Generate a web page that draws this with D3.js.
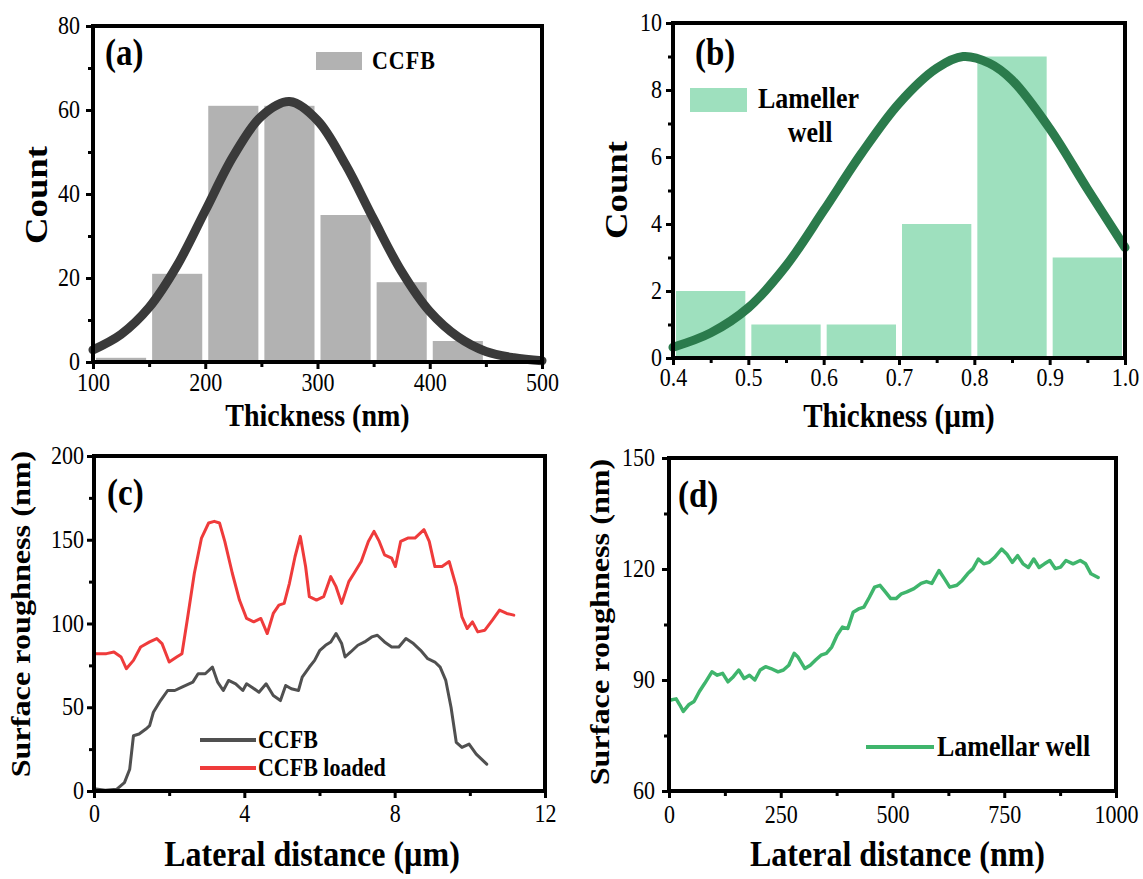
<!DOCTYPE html>
<html>
<head>
<meta charset="utf-8">
<script src="https://cdn.jsdelivr.net/npm/d3@7"></script>
<style>
  html, body { margin: 0; padding: 0; background: #fff; }
  svg { display: block; }
</style>
</head>
<body>
<svg id="fig" width="1143" height="879"></svg>
<script>
// ---------- (a) CCFB thickness histogram ----------
const binStartA = [100, 150, 200, 250, 300, 350, 400];
const binWidthA = 50;
const countsA = [1, 21, 61, 61, 35, 19, 5];
const fitAx = [100, 125, 150, 175, 200, 225, 250, 275, 300, 325, 350, 375, 400, 425, 450, 475, 500];
const fitAy = [2.9, 6.6, 13, 23, 36, 49, 58.5, 62, 57.5, 47, 34, 21.5, 12, 6, 2.5, 1, 0.3];

// ---------- (b) lamellar well thickness histogram ----------
const binStartB = [0.4, 0.5, 0.6, 0.7, 0.8, 0.9];
const binWidthB = 0.1;
const countsB = [2, 1, 1, 4, 9, 3];
const fitBx = [0.40, 0.45, 0.50, 0.55, 0.60, 0.65, 0.70, 0.75, 0.785, 0.82, 0.85, 0.90, 0.95, 1.00];
const fitBy = [0.32, 0.75, 1.5, 2.75, 4.4, 6.1, 7.6, 8.65, 9.0, 8.8, 8.3, 6.85, 5.05, 3.3];

// ---------- (c) surface profiles (µm, nm) ----------
const ccfbProfile = [[0,1.4],[0.3,0.5],[0.6,1],[0.81,5],[0.95,13],[1.05,33],[1.2,34],[1.38,37],[1.48,39],[1.58,47],
  [1.77,54],[1.96,60],[2.15,60],[2.34,62],[2.63,65],[2.77,70],[2.96,70],[3.15,74],[3.29,65],[3.44,60],
  [3.58,66],[3.77,64],[3.96,60],[4.06,64],[4.2,62],[4.39,59],[4.58,64],[4.77,57],[4.96,54],[5.1,63],
  [5.25,61],[5.44,60],[5.54,68],[5.73,74],[5.87,78],[6.01,84],[6.16,87],[6.3,89],[6.44,94],[6.59,88],
  [6.68,80],[6.83,83],[7.02,87],[7.2,89],[7.39,92],[7.54,93],[7.73,89],[7.92,86],[8.11,86],[8.3,91],
  [8.5,88],[8.69,84],[8.88,79],[9.07,77],[9.21,74],[9.36,66],[9.5,50],[9.64,29],[9.79,26],[9.98,28],
  [10.17,22],[10.45,16]];
const ccfbLoadedProfile = [[0,82],[0.33,82],[0.53,83],[0.72,80],[0.86,73],[1.05,78],[1.24,86],[1.48,89],[1.67,91],[1.81,88],
  [2.0,77],[2.2,80],[2.34,82],[2.48,102],[2.67,130],[2.86,151],[3.05,160],[3.2,161],[3.34,160],[3.48,149],
  [3.68,130],[3.87,114],[4.06,103],[4.25,101],[4.44,103],[4.61,94],[4.77,106],[4.92,111],[5.06,112],[5.2,124],
  [5.35,140],[5.49,152],[5.63,134],[5.73,116],[5.92,114],[6.11,116],[6.3,128],[6.44,122],[6.59,112],[6.78,125],
  [6.92,130],[7.11,137],[7.3,149],[7.45,155],[7.59,149],[7.73,141],[7.92,139],[8.02,134],[8.16,149],[8.35,151],
  [8.54,151],[8.78,156],[8.92,149],[9.07,134],[9.26,134],[9.45,137],[9.64,122],[9.79,104],[9.93,97],[10.07,101],
  [10.21,95],[10.4,96],[10.6,102],[10.79,108],[10.98,106],[11.17,105]];

// ---------- (d) lamellar well profile (nm, nm) ----------
const lamellarProfile = [[4,84.6],[16,84.9],[24,83.3],[32,81.5],[44,83.3],[56,84.2],[68,86.9],[80,89.1],[96,92.2],[108,91.3],
  [120,91.8],[132,89.5],[144,90.9],[156,92.7],[168,90.4],[180,91.3],[192,90.0],[204,92.7],[216,93.6],[228,93.1],
  [244,92.2],[256,92.7],[268,94.0],[280,97.2],[288,96.3],[304,93.1],[316,94.0],[328,95.4],[340,96.7],[352,97.2],
  [364,98.9],[376,102.1],[388,104.3],[400,103.9],[412,108.3],[424,109.2],[436,109.7],[448,112.3],[460,115.1],[472,115.6],
  [484,113.8],[496,112.0],[508,112.0],[520,113.3],[532,113.8],[548,114.7],[564,116.1],[576,116.6],[588,116.1],[604,119.6],
  [616,117.4],[628,115.1],[644,115.6],[656,116.9],[668,118.7],[680,120.1],[692,122.7],[704,121.4],[716,121.8],[728,123.1],
  [744,125.4],[756,124.0],[768,121.8],[780,123.6],[792,121.4],[804,120.4],[816,122.7],[828,120.4],[840,121.4],[852,122.3],
  [864,120.1],[876,120.5],[888,122.3],[904,121.4],[920,122.3],[932,121.4],[944,118.7],[960,117.7]];

// ---------- tick values ----------
const ticksA = { xMajor: [100, 200, 300, 400, 500], xMinor: [150, 250, 350, 450],
                 yMajor: [0, 20, 40, 60, 80], yMinor: [10, 30, 50, 70] };
const ticksB = { xMajor: [0.4, 0.5, 0.6, 0.7, 0.8, 0.9, 1.0], xMinor: [0.45, 0.55, 0.65, 0.75, 0.85, 0.95],
                 yMajor: [0, 2, 4, 6, 8, 10], yMinor: [1, 3, 5, 7, 9] };
const ticksC = { xMajor: [0, 4, 8, 12], xMinor: [2, 6, 10],
                 yMajor: [0, 50, 100, 150, 200], yMinor: [25, 75, 125, 175] };
const ticksD = { xMajor: [0, 250, 500, 750, 1000], xMinor: [125, 375, 625, 875],
                 yMajor: [60, 90, 120, 150], yMinor: [75, 105, 135] };

// ---------- shared style ----------
const SERIF = "'Liberation Serif','Times New Roman',Times,serif";
const SY = 1.15;   // vertical stretch applied to all lettering

const svg = d3.select('#fig');
svg.append('rect').attr('width', 1143).attr('height', 879).attr('fill', '#fff');

function label(g, x, y, str, o = {}) {
  const t = g.append('text')
    .attr('transform', `translate(${x},${y}) scale(1,${SY})` + (o.rotate ? ' rotate(-90)' : ''))
    .attr('font-family', SERIF)
    .attr('font-size', o.size || 22)
    .attr('font-weight', o.bold === false ? 'normal' : 'bold')
    .attr('text-anchor', o.anchor || 'start')
    .attr('fill', '#000')
    .text(str);
  if (o.spacing) t.attr('letter-spacing', o.spacing);
  return t;
}

function makePanel(cfg) {
  const g = svg.append('g');
  const x = d3.scaleLinear().domain(cfg.xDomain).range([cfg.x0, cfg.x1]);
  const y = d3.scaleLinear().domain(cfg.yDomain).range([cfg.yBot, cfg.yTop]);
  return { g, x, y, cfg };
}

function drawAxes(p, ticks, fmtX, fmtY) {
  const { g, x, y, cfg } = p;
  const styleTicks = sel => {
    sel.select('.domain').remove();
    sel.selectAll('line').attr('stroke', '#000').attr('stroke-width', 3);
  };
  // bottom axis
  const bx = g.append('g').attr('transform', `translate(0,${cfg.yBot})`)
    .call(d3.axisBottom(x).tickValues(ticks.xMajor).tickSize(7).tickSizeOuter(0).tickFormat(fmtX));
  styleTicks(bx);
  bx.attr('font-family', SERIF).attr('font-size', 22);
  bx.selectAll('text').attr('y', null).attr('dy', null).attr('fill', '#000')
    .attr('transform', `translate(0,${cfg.xLabelOff}) scale(1,${SY})`);
  const bxm = g.append('g').attr('transform', `translate(0,${cfg.yBot})`)
    .call(d3.axisBottom(x).tickValues(ticks.xMinor).tickSize(5).tickSizeOuter(0).tickFormat(''));
  styleTicks(bxm);
  // left axis
  const ly = g.append('g').attr('transform', `translate(${cfg.x0},0)`)
    .call(d3.axisLeft(y).tickValues(ticks.yMajor).tickSize(7).tickSizeOuter(0).tickFormat(fmtY));
  styleTicks(ly);
  ly.attr('font-family', SERIF).attr('font-size', 22);
  ly.selectAll('text').attr('x', null).attr('dy', '0.3em').attr('fill', '#000')
    .attr('transform', `translate(${-cfg.yLabelGap},0) scale(1,${SY})`);
  const lym = g.append('g').attr('transform', `translate(${cfg.x0},0)`)
    .call(d3.axisLeft(y).tickValues(ticks.yMinor).tickSize(5).tickSizeOuter(0).tickFormat(''));
  styleTicks(lym);
  // frame
  g.append('rect')
    .attr('x', cfg.x0).attr('y', cfg.yTop)
    .attr('width', cfg.x1 - cfg.x0).attr('height', cfg.yBot - cfg.yTop)
    .attr('fill', 'none').attr('stroke', '#000').attr('stroke-width', 4);
}

function drawBars(p, starts, width, counts, color) {
  const { g, x, y } = p;
  g.append('g').selectAll('rect').data(starts.map((s, i) => ({ s, c: counts[i] }))).join('rect')
    .attr('x', d => x(d.s) + 3)
    .attr('width', d => x(d.s + width) - x(d.s) - 6)
    .attr('y', d => y(d.c))
    .attr('height', d => y(0) - y(d.c))
    .attr('fill', color);
}

function drawCurve(p, pts, color, w, curve) {
  const { g, x, y } = p;
  g.append('path').datum(pts)
    .attr('d', d3.line().x(d => x(d[0])).y(d => y(d[1])).curve(curve || d3.curveLinear))
    .attr('fill', 'none').attr('stroke', color).attr('stroke-width', w)
    .attr('stroke-linejoin', 'round').attr('stroke-linecap', 'round');
}

// ================= (a) =================
const pa = makePanel({ x0: 93, x1: 542, yTop: 26, yBot: 362, xDomain: [100, 500], yDomain: [0, 80],
                       xLabelOff: 29, yLabelGap: 13 });
drawBars(pa, binStartA, binWidthA, countsA, '#b2b2b2');
drawCurve(pa, fitAx.map((v, i) => [v, fitAy[i]]), '#3a3a3a', 9, d3.curveCatmullRom);
drawAxes(pa, ticksA, d3.format('d'), d3.format('d'));
label(pa.g, 105, 65, '(a)', { size: 33 });
pa.g.append('rect').attr('x', 316).attr('y', 52).attr('width', 46).attr('height', 18).attr('fill', '#b2b2b2');
label(pa.g, 372, 69, 'CCFB', { size: 22, spacing: 1 });
label(pa.g, (93 + 542) / 2, 426, 'Thickness (nm)', { size: 28, anchor: 'middle' });
label(pa.g, 47, 195, 'Count', { size: 32, anchor: 'middle', rotate: true });

// ================= (b) =================
const pb = makePanel({ x0: 673, x1: 1125, yTop: 23, yBot: 358, xDomain: [0.4, 1.0], yDomain: [0, 10],
                       xLabelOff: 28, yLabelGap: 11 });
drawBars(pb, binStartB, binWidthB, countsB, '#9ee0be');
drawCurve(pb, fitBx.map((v, i) => [v, fitBy[i]]), '#2b7b4c', 9, d3.curveCatmullRom);
drawAxes(pb, ticksB, d3.format('.1f'), d3.format('d'));
label(pb.g, 695, 65, '(b)', { size: 33 });
pb.g.append('rect').attr('x', 690).attr('y', 88).attr('width', 57).attr('height', 24).attr('fill', '#9ee0be');
label(pb.g, 758, 108, 'Lameller', { size: 26 });
label(pb.g, 810, 142, 'well', { size: 26, anchor: 'middle' });
label(pb.g, (673 + 1125) / 2, 427, 'Thickness (\u00b5m)', { size: 29, anchor: 'middle' });
label(pb.g, 627, 190, 'Count', { size: 32, anchor: 'middle', rotate: true });

// ================= (c) =================
const pc = makePanel({ x0: 94, x1: 545, yTop: 456, yBot: 791, xDomain: [0, 12], yDomain: [0, 200],
                       xLabelOff: 31, yLabelGap: 10 });
drawCurve(pc, ccfbLoadedProfile, '#ef3b3b', 3);
drawCurve(pc, ccfbProfile, '#505050', 3);
drawAxes(pc, ticksC, d3.format('d'), d3.format('d'));
label(pc.g, 107, 505, '(c)', { size: 33 });
pc.g.append('line').attr('x1', 200).attr('x2', 256).attr('y1', 740).attr('y2', 740)
  .attr('stroke', '#505050').attr('stroke-width', 4);
label(pc.g, 258, 748, 'CCFB', { size: 22 });
pc.g.append('line').attr('x1', 200).attr('x2', 256).attr('y1', 768).attr('y2', 768)
  .attr('stroke', '#ef3b3b').attr('stroke-width', 4);
label(pc.g, 258, 776, 'CCFB loaded', { size: 22 });
label(pc.g, 312, 866, 'Lateral distance (\u00b5m)', { size: 32, anchor: 'middle' });
label(pc.g, 30, 614, 'Surface roughness (nm)', { size: 28, anchor: 'middle', rotate: true });

// ================= (d) =================
const pd = makePanel({ x0: 669, x1: 1116, yTop: 458, yBot: 791, xDomain: [0, 1000], yDomain: [60, 150],
                       xLabelOff: 32, yLabelGap: 14 });
drawCurve(pd, lamellarProfile, '#3fb56c', 3.5);
drawAxes(pd, ticksD, d3.format('d'), d3.format('d'));
label(pd.g, 678, 507, '(d)', { size: 33 });
pd.g.append('line').attr('x1', 866).attr('x2', 934).attr('y1', 747).attr('y2', 747)
  .attr('stroke', '#3fb56c').attr('stroke-width', 4);
label(pd.g, 937, 756, 'Lamellar well', { size: 26 });
label(pd.g, (669 + 1116) / 2 + 5, 866, 'Lateral distance (nm)', { size: 32, anchor: 'middle' });
label(pd.g, 609, 622, 'Surface roughness (nm)', { size: 28, anchor: 'middle', rotate: true });
</script>
</body>
</html>
